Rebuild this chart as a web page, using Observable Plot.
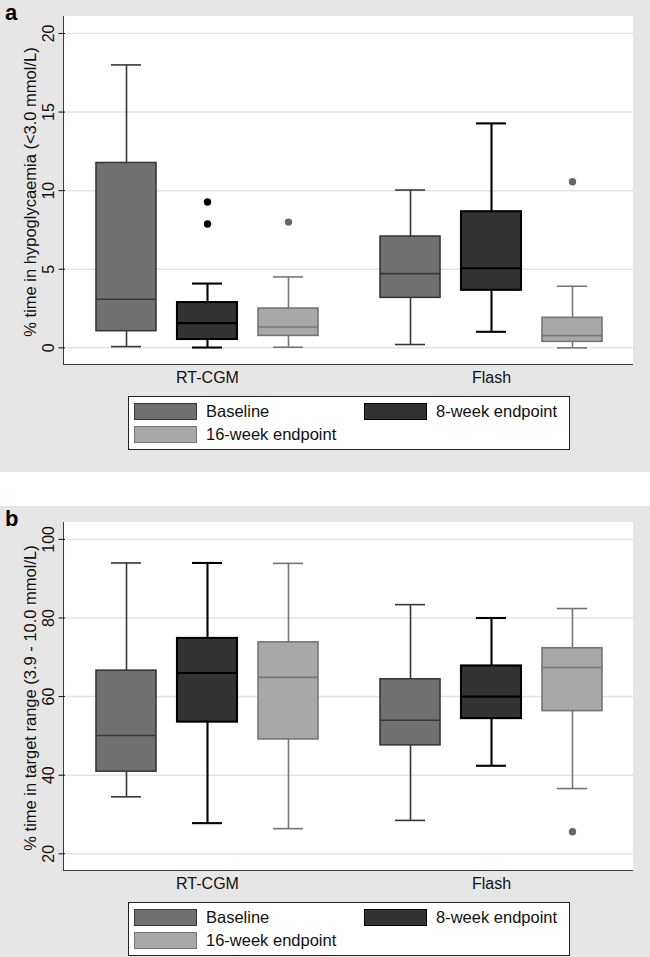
<!DOCTYPE html>
<html>
<head>
<meta charset="utf-8">
<script src="https://cdn.jsdelivr.net/npm/d3@7"></script>
<script src="https://cdn.jsdelivr.net/npm/@observablehq/plot@0.6"></script>
<style>
  html, body { margin: 0; padding: 0; background: #ffffff; overflow: hidden; }
  body { width: 650px; height: 957px; font-family: "Liberation Sans", Arial, sans-serif; }
  .panel { position: relative; width: 650px; height: 472px; background: #e6e6e6; }
  .gap { height: 34px; background: #ffffff; }
  .plotbg { position: absolute; left: 63px; top: 16px; width: 570px; height: 349px; box-sizing: border-box;
            background: #ffffff; border-left: 1.5px solid #3a3a3a; border-bottom: 1.5px solid #3a3a3a; }
  .chart { position: absolute; left: 0; top: 0; }
  .chart svg { background: transparent !important; font-family: "Liberation Sans", Arial, sans-serif !important; font-size: 16px !important; }
  .tag { position: absolute; left: 5px; top: 3px; line-height: 20px; font-weight: bold; font-size: 22px; color: #000; }
  .ytitle { position: absolute; left: 30px; top: 192px; transform: translate(-50%, -50%) rotate(-90deg);
            white-space: nowrap; font-size: 16.5px; line-height: 18px; color: #111; }
  .legend { position: absolute; left: 128px; top: 396px; width: 442px; height: 54px; box-sizing: border-box;
            background: #ffffff; border: 1.5px solid #222; }
  .item { position: absolute; height: 17px; display: flex; align-items: center; font-size: 16.5px; color: #111; white-space: nowrap; }
  .sw { width: 63px; height: 17px; box-sizing: border-box; margin-right: 9px; border: 1.5px solid #333; }
</style>
</head>
<body>
<div class="panel" id="pa"><div class="plotbg"></div><div class="chart"></div><div class="tag">a</div><div class="ytitle"></div><div class="legend"></div></div>
<div class="gap"></div>
<div class="panel" id="pb"><div class="plotbg"></div><div class="chart"></div><div class="tag">b</div><div class="ytitle"></div><div class="legend"></div></div>
<script>
// ---------- data ----------
const groups = ["RT-CGM", "Flash"];
const series = ["Baseline", "8-week endpoint", "16-week endpoint"];
// box order: RT-CGM (Baseline, 8-week, 16-week), Flash (Baseline, 8-week, 16-week)
const boxGroup  = ["RT-CGM", "RT-CGM", "RT-CGM", "Flash", "Flash", "Flash"];
const boxSeries = ["Baseline", "8-week endpoint", "16-week endpoint", "Baseline", "8-week endpoint", "16-week endpoint"];

// panel a: % time in hypoglycaemia (<3.0 mmol/L)
const hypoLow  = [0.08, 0.02, 0.04, 0.21, 1.02, 0.0];
const hypoQ1   = [1.06, 0.53, 0.76, 3.18, 3.66, 0.38];
const hypoMed  = [3.09, 1.57, 1.33, 4.72, 5.06, 0.78];
const hypoQ3   = [11.76, 2.88, 2.50, 7.08, 8.66, 1.91];
const hypoHigh = [18.0, 4.09, 4.51, 10.04, 14.28, 3.92];
const hypoOutGroup  = ["RT-CGM", "RT-CGM", "RT-CGM", "Flash"];
const hypoOutSeries = ["8-week endpoint", "8-week endpoint", "16-week endpoint", "16-week endpoint"];
const hypoOutValue  = [9.28, 7.88, 8.0, 10.57];
const hypoTicks = [0, 5, 10, 15, 20];
const hypoTitle = "% time in hypoglycaemia (<3.0 mmol/L)";

// panel b: % time in target range (3.9 - 10.0 mmol/L)
const tirLow  = [34.5, 27.8, 26.4, 28.5, 42.4, 36.6];
const tirQ1   = [40.9, 53.5, 49.1, 47.6, 54.4, 56.3];
const tirMed  = [50.1, 66.0, 64.9, 54.0, 60.0, 67.4];
const tirQ3   = [66.6, 74.8, 73.8, 64.4, 67.8, 72.3];
const tirHigh = [94.0, 94.0, 93.9, 83.4, 80.0, 82.4];
const tirOutGroup  = ["Flash"];
const tirOutSeries = ["16-week endpoint"];
const tirOutValue  = [25.6];
const tirTicks = [20, 40, 60, 80, 100];
const tirTitle = "% time in target range (3.9 - 10.0 mmol/L)";

// ---------- styles ----------
const fillC   = {"Baseline": "#707070", "8-week endpoint": "#333333", "16-week endpoint": "#a8a8a8"};
const strokeC = {"Baseline": "#383838", "8-week endpoint": "#000000", "16-week endpoint": "#767676"};
const widthC  = {"Baseline": 1.6, "8-week endpoint": 2.1, "16-week endpoint": 1.6};
const dotC    = {"Baseline": "#5e5e5e", "8-week endpoint": "#000000", "16-week endpoint": "#666666"};

function buildRows(low, q1, med, q3, high) {
  return boxGroup.map((g, i) => ({group: g, series: boxSeries[i], low: low[i], q1: q1[i], med: med[i], q3: q3[i], high: high[i]}));
}
function buildOut(gs, ss, vs) {
  return vs.map((v, i) => ({group: gs[i], series: ss[i], value: v}));
}

function drawPanel(id, rows, outs, yDomain, yTicks, yLabel) {
  const panel = document.getElementById(id);
  const sw = d => widthC[d.series];
  const chart = Plot.plot({
    width: 650,
    height: 392,
    marginLeft: 64,
    marginRight: 17,
    marginTop: 16,
    marginBottom: 28,
    style: {fontFamily: "'Liberation Sans', Arial, sans-serif", fontSize: "16px", color: "#111", background: "transparent"},
    fx: {domain: groups, padding: 0, label: null, tickSize: 0, tickPadding: 7, axis: "bottom"},
    x: {domain: series, paddingInner: 0.256, paddingOuter: 0.36, axis: null},
    y: {domain: yDomain, ticks: yTicks, tickSize: 6.5, tickPadding: 5, tickRotate: -90, label: null},
    color: {type: "identity"},
    marks: [
      Plot.gridY(yTicks, {stroke: "#e4e4e4", strokeOpacity: 1, strokeWidth: 1.5}),
      Plot.ruleX(rows, {fx: "group", x: "series", y1: "low", y2: "high", stroke: d => strokeC[d.series], strokeWidth: sw}),
      Plot.tickY(rows, {fx: "group", x: "series", y: "low", stroke: d => strokeC[d.series], strokeWidth: sw, inset: 15}),
      Plot.tickY(rows, {fx: "group", x: "series", y: "high", stroke: d => strokeC[d.series], strokeWidth: sw, inset: 15}),
      Plot.barY(rows, {fx: "group", x: "series", y1: "q1", y2: "q3", fill: d => fillC[d.series], stroke: d => strokeC[d.series], strokeWidth: sw}),
      Plot.tickY(rows, {fx: "group", x: "series", y: "med", stroke: d => strokeC[d.series], strokeWidth: sw}),
      Plot.dot(outs, {fx: "group", x: "series", y: "value", r: 3.7, fill: d => dotC[d.series], stroke: "none"})
    ]
  });
  panel.querySelector(".chart").appendChild(chart);
  panel.querySelector(".ytitle").textContent = yLabel;

  const legend = panel.querySelector(".legend");
  const pos = [[5, 6], [235, 6], [5, 29]];
  series.forEach((s, i) => {
    const it = document.createElement("div");
    it.className = "item";
    it.style.left = pos[i][0] + "px";
    it.style.top = pos[i][1] + "px";
    const box = document.createElement("div");
    box.className = "sw";
    box.style.background = fillC[s];
    box.style.borderColor = strokeC[s];
    const t = document.createElement("span");
    t.textContent = s;
    it.appendChild(box);
    it.appendChild(t);
    legend.appendChild(it);
  });
}

drawPanel("pa", buildRows(hypoLow, hypoQ1, hypoMed, hypoQ3, hypoHigh),
          buildOut(hypoOutGroup, hypoOutSeries, hypoOutValue),
          [-1.06, 21.08], hypoTicks, hypoTitle);
drawPanel("pb", buildRows(tirLow, tirQ1, tirMed, tirQ3, tirHigh),
          buildOut(tirOutGroup, tirOutSeries, tirOutValue),
          [15.75, 104.3], tirTicks, tirTitle);
</script>
</body>
</html>
